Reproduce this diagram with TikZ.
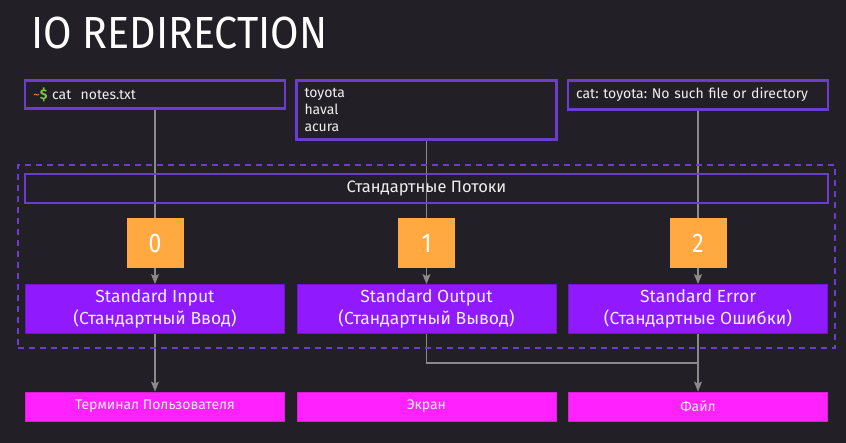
\documentclass[tikz,border=0pt]{standalone}
\usepackage{fontspec}
\setmainfont{Fira Sans}
\newfontfamily\cond[FakeStretch=0.85]{Fira Sans}
\newfontfamily\titlefont[FakeStretch=0.915]{Fira Sans}
\usetikzlibrary{arrows.meta}
\definecolor{bgc}{HTML}{222026}
\definecolor{pborder}{HTML}{6A3CCF}
\definecolor{orng}{HTML}{FFA940}
\definecolor{viol}{HTML}{9019FE}
\definecolor{mag}{HTML}{FF22FF}
\definecolor{txt}{HTML}{EFEFEF}
\definecolor{conn}{HTML}{8A8A8A}
\definecolor{tilde}{HTML}{E8873A}
\definecolor{dollar}{HTML}{7CC04A}
\pgfdeclarelayer{bg}
\pgfdeclarelayer{background}
\pgfsetlayers{bg,background,main}
\tikzset{
  cmdbox/.style={draw=pborder, line width=2.5pt, minimum width=260pt, inner sep=0pt, text=txt, font=\frenchspacing\fontsize{14}{17}\selectfont},
  numbox/.style={fill=orng, minimum width=57pt, minimum height=50pt, inner sep=0pt, text=white, font=\cond\fontsize{27}{30}\selectfont},
  streambox/.style={fill=viol, draw=viol!80!black, line width=0.8pt, minimum width=259pt, minimum height=49pt, inner sep=0pt, text=txt, align=center, font=\fontsize{17.5}{22}\selectfont},
  destbox/.style={fill=mag, draw=mag!85!black, line width=0.8pt, minimum width=259pt, minimum height=29pt, inner sep=0pt, text=txt, font=\fontsize{14}{16}\selectfont},
  conline/.style={draw=conn, line width=1.2pt},
  conarrow/.style={conline, -{Stealth[length=10pt,width=8pt,inset=2pt]}},
}
\begin{document}
\begin{tikzpicture}[x=1pt,y=-1pt]
\begin{pgfonlayer}{bg}
\fill[bgc] (0,0) rectangle (846,443);
\end{pgfonlayer}
\useasboundingbox (0,0) rectangle (846,443);

\node[anchor=base west, text=white, font=\titlefont\fontsize{45}{50}\selectfont, inner sep=0pt] (title) at (31,49) {IO REDIRECTION};

% top boxes
\node[cmdbox, minimum height=28pt, text width=244pt, align=left] (cmd) at (155,94.5)
  {{\color{tilde}\textasciitilde}{\color{dollar}\textbf{\$}}\ cat\ \ notes.txt};
\node[cmdbox, minimum height=59pt, text width=244pt, align=left] (out) at (426.5,110)
  {toyota\\haval\\acura};
\node[cmdbox, minimum height=29pt, text width=244pt, align=left] (err) at (698,95)
  {cat: toyota: No such file or directory};

% dashed group
\node[draw=pborder, dashed, dash pattern=on 6pt off 5pt, line width=1.5pt, minimum width=817pt, minimum height=183pt, inner sep=0pt] (group) at (426.5,256.5) {};
\node[draw=pborder, line width=2.5pt, minimum width=803pt, minimum height=29pt, inner sep=0pt, text=txt, font=\fontsize{16.5}{18}\selectfont] (streams) at (426.5,188.5) {Стандартные Потоки};

% numbers
\node[numbox] (n0) at (155,243.5) {0};
\node[numbox] (n1) at (426.5,243.5) {1};
\node[numbox] (n2) at (698,243.5) {2};

% streams
\node[streambox] (s0) at (155,309) {Standard Input\\(Стандартный Ввод)};
\node[streambox] (s1) at (426.5,309) {Standard Output\\(Стандартный Вывод)};
\node[streambox] (s2) at (698,309) {Standard Error\\(Стандартные Ошибки)};

% destinations
\node[destbox] (d0) at (155,406.5) {Терминал Пользователя};
\node[destbox] (d1) at (426.5,406.5) {Экран};
\node[destbox] (d2) at (698,406.5) {Файл};

\coordinate (merge) at (698,363);

\begin{pgfonlayer}{background}
\draw[conarrow] (cmd.south) -- (s0.north);
\draw[conarrow] (out.south) -- (s1.north);
\draw[conarrow] (err.south) -- (s2.north);
\draw[conarrow] (s0.south) -- (d0.north);
\draw[conline] (s1.south) |- (merge);
\draw[conarrow] (s2.south) -- (d2.north);
\end{pgfonlayer}
\end{tikzpicture}
\end{document}
